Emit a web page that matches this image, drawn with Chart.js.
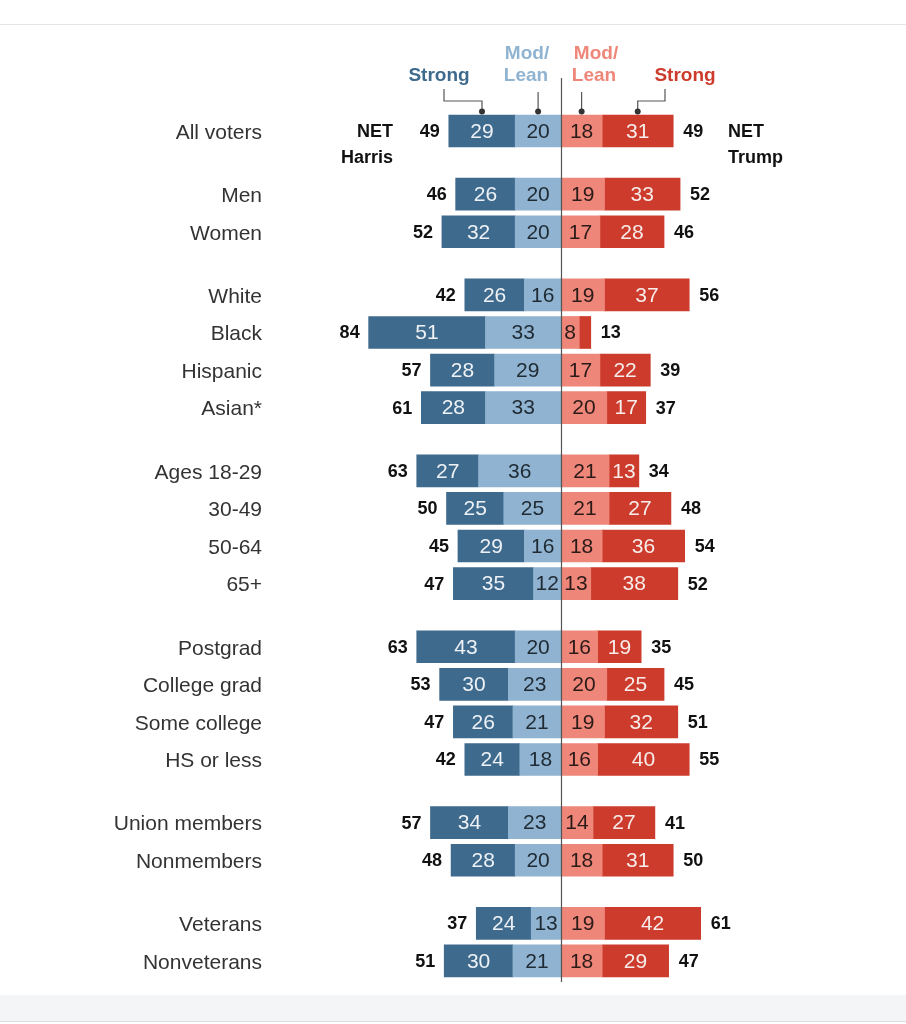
<!DOCTYPE html>
<html>
<head>
<meta charset="utf-8">
<script src="https://cdn.jsdelivr.net/npm/chart.js@4.4.1/dist/chart.umd.min.js"></script>
<style>
  html, body { margin: 0; padding: 0; background: #ffffff; }
  #wrap { position: relative; width: 906px; height: 1024px; }
  canvas { display: block; }
</style>
</head>
<body>
<div id="wrap"><canvas id="c" width="906" height="1024" style="width:906px;height:1024px"></canvas></div>
<script>
// ---- Data ----
const categories = ['All voters','Men','Women','White','Black','Hispanic','Asian*','Ages 18-29','30-49','50-64','65+','Postgrad','College grad','Some college','HS or less','Union members','Nonmembers','Veterans','Nonveterans'];
const groupSizes = [1,2,4,4,4,2,2];
const harrisStrong = [29,26,32,26,51,28,28,27,25,29,35,43,30,26,24,34,28,24,30];
const harrisLean   = [20,20,20,16,33,29,33,36,25,16,12,20,23,21,18,23,20,13,21];
const trumpLean    = [18,19,17,19,8,17,20,21,21,18,13,16,20,19,16,14,18,19,18];
const trumpStrong  = [31,33,28,37,5,22,17,13,27,36,38,19,25,32,40,27,31,42,29];
const netHarris    = [49,46,52,42,84,57,61,63,50,45,47,63,53,47,42,57,48,37,51];
const netTrump     = [49,52,46,56,13,39,37,34,48,54,52,35,45,51,55,41,50,61,47];

// ---- Layout helpers ----
const GROUP_EXTRA = 0.68;
const rowPos = [];
(function(){
  let i = 0;
  groupSizes.forEach((n, k) => { for (let j = 0; j < n; j++) { rowPos.push(i + k * GROUP_EXTRA); i++; } });
})();

const COLORS = {
  hStrong: '#3e6a8d', hLean: '#8fb3d0', tLean: '#ee8679', tStrong: '#cc3b2c'
};
const BASE_FONT = "'Liberation Sans', Arial, 'DejaVu Sans', sans-serif";

function series(vals, sign) { return vals.map((v, i) => ({ x: sign * v, y: rowPos[i] })); }

const decor = {
  id: 'decor',
  beforeDraw(chart) {
    const ctx = chart.ctx;
    ctx.save();
    ctx.fillStyle = '#ffffff';
    ctx.fillRect(0, 0, chart.width, chart.height);
    ctx.strokeStyle = '#e4e4e4'; ctx.lineWidth = 1;
    ctx.beginPath(); ctx.moveTo(0, 24.5); ctx.lineTo(chart.width, 24.5); ctx.stroke();
    ctx.fillStyle = '#f4f5f7';
    ctx.fillRect(0, 995, chart.width, 26);
    ctx.strokeStyle = '#dcdcdc';
    ctx.beginPath(); ctx.moveTo(0, 1021.5); ctx.lineTo(chart.width, 1021.5); ctx.stroke();
    ctx.restore();
  },
  afterDatasetsDraw(chart) {
    const ctx = chart.ctx;
    const xs = chart.scales.x, ys = chart.scales.y;
    const area = chart.chartArea;
    ctx.save();
    // center line
    const cx0 = Math.round(xs.getPixelForValue(0)) + 0.5;
    ctx.strokeStyle = '#555'; ctx.lineWidth = 1.2;
    ctx.beginPath(); ctx.moveTo(cx0, area.top); ctx.lineTo(cx0, area.bottom); ctx.stroke();

    // in-bar labels
    ctx.font = '21px ' + BASE_FONT;
    ctx.textAlign = 'center'; ctx.textBaseline = 'middle';
    const textColors = ['#1f2a33', '#eef2f6', '#2a1a18', '#f7ecea'];
    const valsList = [harrisLean, harrisStrong, trumpLean, trumpStrong];
    chart.data.datasets.forEach((ds, di) => {
      const meta = chart.getDatasetMeta(di);
      meta.data.forEach((el, i) => {
        const v = valsList[di][i];
        if (v < 6) return;
        const p = el.getProps(['x', 'y', 'base'], true);
        ctx.fillStyle = textColors[di];
        ctx.fillText(String(v), (p.x + p.base) / 2, p.y + 1);
      });
    });

    // net labels
    ctx.font = 'bold 18px ' + BASE_FONT;
    ctx.fillStyle = '#111';
    rowPos.forEach((pos, i) => {
      const y = ys.getPixelForValue(pos) + 1;
      const left = xs.getPixelForValue(-(harrisStrong[i] + harrisLean[i]));
      const right = xs.getPixelForValue(trumpStrong[i] + trumpLean[i]);
      ctx.textAlign = 'right';
      ctx.fillText(String(netHarris[i]), left - 9, y);
      ctx.textAlign = 'left';
      ctx.fillText(String(netTrump[i]), right + 10, y);
    });
    // NET Harris / NET Trump
    const y0 = ys.getPixelForValue(rowPos[0]) + 1;
    ctx.textAlign = 'right';
    ctx.fillText('NET', 393, y0);
    ctx.fillText('Harris', 393, y0 + 26);
    ctx.textAlign = 'left';
    ctx.fillText('NET', 728, y0);
    ctx.fillText('Trump', 728, y0 + 26);

    // header labels
    ctx.font = 'bold 19px ' + BASE_FONT;
    ctx.textAlign = 'center';
    ctx.fillStyle = COLORS.hStrong; ctx.fillText('Strong', 439, 76);
    ctx.fillStyle = COLORS.hLean; ctx.fillText('Mod/', 527, 54); ctx.fillText('Lean', 526, 76);
    ctx.fillStyle = COLORS.tLean; ctx.fillText('Mod/', 596, 54); ctx.fillText('Lean', 594, 76);
    ctx.fillStyle = COLORS.tStrong; ctx.fillText('Strong', 685, 76);

    // connectors to first row segments
    const segCenters = [0, 1, 2, 3].map(di => {
      const p = chart.getDatasetMeta(di).data[0].getProps(['x', 'base'], true);
      return (p.x + p.base) / 2;
    });
    ctx.strokeStyle = '#555'; ctx.lineWidth = 1.2; ctx.fillStyle = '#333';
    const dotY = 111.5;
    function path(pts) {
      ctx.beginPath(); ctx.moveTo(pts[0][0], pts[0][1]);
      for (let k = 1; k < pts.length; k++) ctx.lineTo(pts[k][0], pts[k][1]);
      ctx.stroke();
    }
    function dot(x) { ctx.beginPath(); ctx.arc(x, dotY, 3, 0, Math.PI * 2); ctx.fill(); }
    const hs = segCenters[1], hl = segCenters[0], tl = segCenters[2], ts = segCenters[3];
    path([[444, 89], [444, 101], [hs, 101], [hs, dotY]]); dot(hs);
    path([[hl, 92], [hl, dotY]]); dot(hl);
    path([[tl, 92], [tl, dotY]]); dot(tl);
    path([[665, 89], [665, 101], [ts, 101], [ts, dotY]]); dot(ts);
    ctx.restore();
  }
};

new Chart(document.getElementById('c'), {
  type: 'bar',
  data: {
    datasets: [
      { label: 'Harris Mod/Lean', data: series(harrisLean, -1), backgroundColor: COLORS.hLean },
      { label: 'Harris Strong', data: series(harrisStrong, -1), backgroundColor: COLORS.hStrong },
      { label: 'Trump Mod/Lean', data: series(trumpLean, 1), backgroundColor: COLORS.tLean },
      { label: 'Trump Strong', data: series(trumpStrong, 1), backgroundColor: COLORS.tStrong }
    ]
  },
  options: {
    indexAxis: 'y',
    responsive: false,
    animation: false,
    barThickness: 32,
    borderWidth: 0,
    layout: { padding: { left: 0, right: 116, top: 78, bottom: 42 } },
    plugins: { legend: { display: false }, tooltip: { enabled: false } },
    scales: {
      x: {
        type: 'linear', display: false, stacked: true, min: -130.57, max: 100
      },
      y: {
        type: 'linear', reverse: true, stacked: true, offset: false,
        min: -1.41, max: 22.64,
        grid: { display: false, drawTicks: false, offset: false },
        border: { display: false },
        afterBuildTicks(scale) { scale.ticks = rowPos.map(v => ({ value: v })); },
        afterFit(scale) { scale.width = 262; },
        ticks: {
          autoSkip: false,
          padding: 0,
          labelOffset: 2,
          color: '#333',
          font: { family: BASE_FONT, size: 21 },
          callback: (value, index) => categories[index]
        }
      }
    }
  },
  plugins: [decor]
});
</script>
</body>
</html>
